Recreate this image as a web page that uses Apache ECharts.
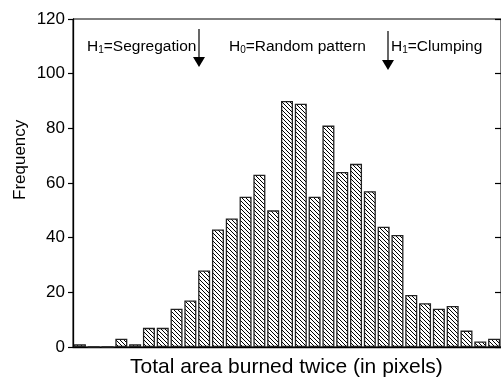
<!DOCTYPE html>
<html>
<head>
<meta charset="utf-8">
<script src="https://cdn.jsdelivr.net/npm/echarts@6/dist/echarts.min.js"></script>
<style>
  html, body { margin: 0; padding: 0; background: #fff; }
  #chart { width: 501px; height: 383px; }
</style>
</head>
<body>
<div id="chart"></div>
<script>
  // histogram bins (no x labels in the figure)
  const bins = Array.from({ length: 31 }, (_, i) => 'b' + i);
  const frequency = [1, 0, 0, 3, 1, 7, 7, 14, 17, 28, 43, 47, 55, 63, 50, 90, 89, 55, 81, 64, 67, 57, 44, 41, 19, 16, 14, 15, 6, 2, 3];
  const yTicks = [0, 20, 40, 60, 80, 100, 120];

  const FONT = '"Liberation Sans", Arial, Helvetica, sans-serif';

  // diagonal hatch pattern "\\\"
  const makeHatch = () => {
    const c = document.createElement('canvas');
    c.width = 4;
    c.height = 4;
    const ctx = c.getContext('2d');
    ctx.fillStyle = '#fff';
    ctx.fillRect(0, 0, 4, 4);
    ctx.strokeStyle = '#000';
    ctx.lineWidth = 1;
    ctx.beginPath();
    ctx.moveTo(-1, -1);
    ctx.lineTo(5, 5);
    ctx.moveTo(-1, 3);
    ctx.lineTo(1, 5);
    ctx.moveTo(3, -1);
    ctx.lineTo(5, 1);
    ctx.stroke();
    return c;
  };

  const chart = echarts.init(document.getElementById('chart'));

  const rich = {
    a: { fontFamily: FONT, fontSize: 15.5, color: '#000' },
    s: { fontFamily: FONT, fontSize: 10, color: '#000', padding: [6, 0, 0, 0] }
  };

  const arrow = (x, y0, y1) => [
    { type: 'line', shape: { x1: x, y1: y0, x2: x, y2: y1 - 8 }, style: { stroke: '#000', lineWidth: 1.2 } },
    { type: 'polygon', shape: { points: [[x - 6, y1 - 10], [x + 6, y1 - 10], [x, y1]] }, style: { fill: '#000' } }
  ];

  const label = (x, y, sub, rest) => ({
    type: 'text',
    left: x,
    top: y,
    style: {
      text: '{a|H}{s|' + sub + '}{a|' + rest + '}',
      rich,
      fill: '#000'
    }
  });

  chart.setOption({
    animation: false,
    backgroundColor: '#fff',
    grid: {
      left: 73,
      top: 19,
      width: 429,
      height: 328,
      show: true,
      borderColor: '#000',
      borderWidth: 1
    },
    xAxis: {
      type: 'category',
      data: bins,
      axisLine: { lineStyle: { color: '#000', width: 1.3 } },
      axisTick: { show: false },
      axisLabel: { show: false }
    },
    yAxis: [
      {
        type: 'value',
        min: yTicks[0],
        max: yTicks[yTicks.length - 1],
        interval: 20,
        axisLine: { show: true, lineStyle: { color: '#000', width: 1.3 } },
        axisTick: { show: true, length: 5, lineStyle: { color: '#000', width: 1.2 } },
        axisLabel: { color: '#000', fontFamily: FONT, fontSize: 17, margin: 8 },
        splitLine: { show: false }
      },
      {
        type: 'value',
        position: 'right',
        min: yTicks[0],
        max: yTicks[yTicks.length - 1],
        interval: 20,
        axisLine: { show: true, lineStyle: { color: '#000' } },
        axisTick: { show: true, inside: true, length: 6, lineStyle: { color: '#000', width: 1.2 } },
        axisLabel: { show: false },
        splitLine: { show: false }
      }
    ],
    series: [
      {
        type: 'bar',
        data: frequency,
        barWidth: 12,
        itemStyle: {
          color: { image: makeHatch(), repeat: 'repeat' },
          borderColor: '#222',
          borderWidth: 1.3
        }
      }
    ],
    graphic: [
      {
        type: 'text',
        left: 130,
        top: 357,
        style: { text: 'Total area burned twice (in pixels)', fontFamily: FONT, fontSize: 21, fill: '#000' }
      },
      {
        type: 'text',
        x: 12,
        y: 200,
        rotation: Math.PI / 2,
        style: { text: 'Frequency', fontFamily: FONT, fontSize: 17, fill: '#000' }
      },
      label(87, 39, '1', '=Segregation'),
      label(229, 39, '0', '=Random pattern'),
      label(391, 39, '1', '=Clumping'),
      ...arrow(199, 29, 67),
      ...arrow(388, 31, 70)
    ]
  });
</script>
</body>
</html>
